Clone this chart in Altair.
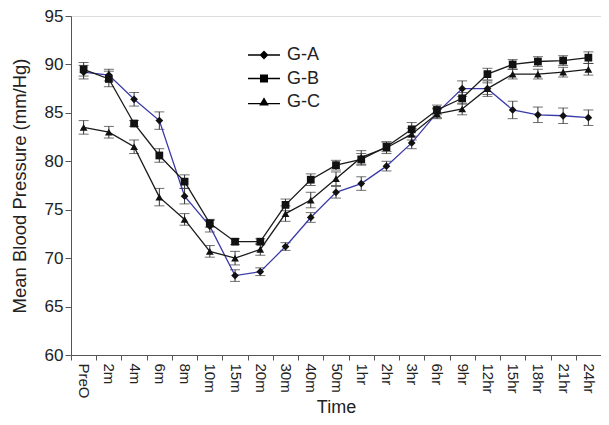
import altair as alt
import pandas as pd

times = ["PreO", "2m", "4m", "6m", "8m", "10m", "15m", "20m", "30m", "40m", "50m",
         "1hr", "2hr", "3hr", "6hr", "9hr", "12hr", "15hr", "18hr", "21hr", "24hr"]
series_names = ["G-A", "G-B", "G-C"]

ga = [89.2, 88.9, 86.4, 84.2, 76.4, 73.3, 68.2, 68.6, 71.2, 74.2, 76.8,
      77.7, 79.5, 81.9, 85.0, 87.5, 87.5, 85.3, 84.8, 84.7, 84.5]
gb = [89.5, 88.5, 83.9, 80.6, 77.9, 73.6, 71.7, 71.7, 75.5, 78.1, 79.6,
      80.2, 81.5, 83.3, 85.3, 86.5, 89.0, 90.0, 90.3, 90.4, 90.7]
gc = [83.5, 83.0, 81.5, 76.3, 74.0, 70.7, 70.0, 70.9, 74.6, 76.0, 78.2,
      80.4, 81.4, 82.8, 84.9, 85.4, 87.5, 89.0, 89.0, 89.2, 89.5]

ga_err = [0.7, 0.6, 0.7, 0.9, 0.8, 0.6, 0.6, 0.4, 0.4, 0.5, 0.6,
          0.7, 0.5, 0.6, 0.5, 0.8, 0.8, 0.9, 0.8, 0.8, 0.8]
gb_err = [0.7, 0.8, 0.3, 0.7, 0.7, 0.4, 0.3, 0.3, 0.6, 0.6, 0.5,
          0.6, 0.5, 0.7, 0.5, 0.6, 0.6, 0.5, 0.5, 0.5, 0.6]
gc_err = [0.7, 0.6, 0.7, 0.9, 0.6, 0.6, 0.7, 0.6, 0.8, 0.8, 0.7,
          0.7, 0.6, 0.6, 0.5, 0.6, 0.6, 0.5, 0.5, 0.5, 0.6]

line_colors = ["#3a3aa8", "#1a1a1a", "#1a1a1a"]
point_shapes = ["diamond", "square", "triangle-up"]
# legend glyphs: a thin bar (the line) joined with the marker
legend_shapes = [
    "M-2,-0.08H2V0.08H-2Z M0,-0.56L0.56,0L0,0.56L-0.56,0Z",
    "M-2,-0.08H2V0.08H-2Z M-0.5,-0.5H0.5V0.5H-0.5Z",
    "M-2,0.12H2V0.28H-2Z M0,-0.6L0.6,0.45L-0.6,0.45Z",
]

rows = []
for name, vals, errs in zip(series_names, [ga, gb, gc], [ga_err, gb_err, gc_err]):
    for t, v, e in zip(times, vals, errs):
        rows.append({"time": t, "series": name, "value": v, "lo": v - e, "hi": v + e})
df = pd.DataFrame(rows)

FONT = "Liberation Sans"

x_enc = alt.X(
    "time:N", sort=times,
    scale=alt.Scale(paddingInner=0, paddingOuter=0),
    axis=alt.Axis(title="Time", labelAngle=90, tickBand="extent", labelFontSize=15,
                  titleFontSize=18, titleFontWeight="normal", tickSize=5,
                  labelPadding=3, titlePadding=0, domainColor="#555", tickColor="#555",
                  labelColor="#222", titleColor="#222", labelFont=FONT, titleFont=FONT),
)
y_scale = alt.Scale(domain=[60, 95], nice=False, zero=False)
y_axis = alt.Axis(title="Mean Blood Pressure (mm/Hg)", values=list(range(60, 96, 5)),
                  labelFontSize=17, titleFontSize=18.5, titleFontWeight="normal",
                  tickSize=6, labelPadding=2, titlePadding=15, domainColor="#555",
                  tickColor="#555", labelColor="#222", titleColor="#222",
                  labelFont=FONT, titleFont=FONT, grid=False)

base = alt.Chart(df)

err_rule = base.mark_rule(color="#333", strokeWidth=1).encode(
    x=x_enc, y=alt.Y("lo:Q", scale=y_scale, axis=y_axis), y2="hi:Q")
err_top = base.mark_tick(color="#333", size=10, thickness=1, orient="horizontal").encode(
    x=x_enc, y=alt.Y("hi:Q", scale=y_scale, axis=y_axis))
err_bot = base.mark_tick(color="#333", size=10, thickness=1, orient="horizontal").encode(
    x=x_enc, y=alt.Y("lo:Q", scale=y_scale, axis=y_axis))

color_scale = alt.Scale(domain=series_names, range=line_colors)

lines = base.mark_line(strokeWidth=1.3).encode(
    x=x_enc, y=alt.Y("value:Q", scale=y_scale, axis=y_axis),
    color=alt.Color("series:N", scale=color_scale, legend=None),
)
points = base.mark_point(filled=True, size=60, color="#111", opacity=1).encode(
    x=x_enc, y=alt.Y("value:Q", scale=y_scale, axis=y_axis),
    shape=alt.Shape("series:N", scale=alt.Scale(domain=series_names, range=point_shapes), legend=None),
)

leg = dict(title=None, orient="none", legendX=184, legendY=30,
           symbolSize=256, symbolOpacity=1, symbolStrokeWidth=0,
           labelFontSize=18, labelOffset=14,
           rowPadding=5.5, padding=0, labelFont=FONT, labelColor="#222")

# legend-only layer: no rows survive the filter, the legend comes from the scale domain
legend_layer = base.transform_filter("datum.value < 0").mark_point(
    size=256, filled=True, opacity=1).encode(
    x=x_enc, y=alt.Y("value:Q", scale=y_scale, axis=y_axis),
    color=alt.Color("series:N", scale=color_scale, legend=alt.Legend(**leg)),
    shape=alt.Shape("series:N", scale=alt.Scale(domain=series_names, range=legend_shapes),
                    legend=alt.Legend(**leg)),
)

chart = alt.layer(err_rule, err_top, err_bot, lines, points, legend_layer).resolve_scale(
    shape="independent"
).properties(
    width=530, height=339,
    autosize=alt.AutoSizeParams(type="none"),
    padding={"left": 63, "top": 8, "right": 0, "bottom": 62},
).configure_view(stroke=None).configure(font=FONT)

chart.save("out.html", embed_options={"renderer": "svg", "actions": False})
